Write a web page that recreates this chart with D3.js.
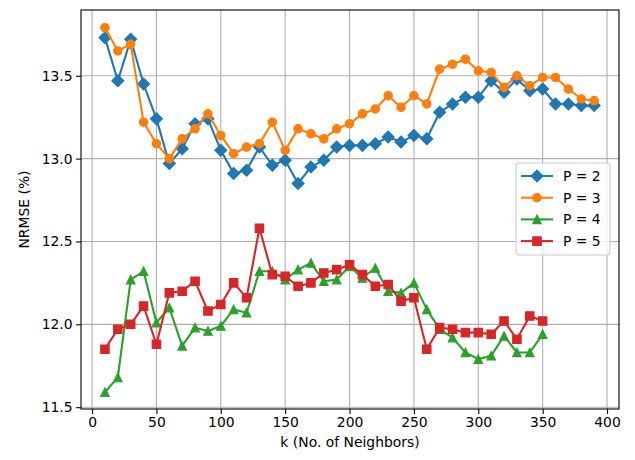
<html>
  <head>
    <script src="https://cdn.jsdelivr.net/npm/d3@7"></script>
    <style>
      body { margin: 0; background: #fff; }
      text { font-family: "DejaVu Sans", sans-serif; }
    </style>
  </head>
  <body>
    <div id="chart"></div>
    <script>
      // values
      var kAll = [10, 20, 30, 40, 50, 60, 70, 80, 90, 100, 110, 120, 130, 140, 150, 160, 170, 180, 190, 200,
        210, 220, 230, 240, 250, 260, 270, 280, 290, 300, 310, 320, 330, 340, 350, 360, 370, 380, 390];
      var kShort = kAll.slice(0, 35); // P = 4, 5 stop at 350

      var p2 = [13.73, 13.47, 13.72, 13.45, 13.24, 12.97, 13.06, 13.21, 13.24, 13.05,
        12.91, 12.93, 13.07, 12.96, 12.99, 12.85, 12.95, 12.99, 13.07, 13.08,
        13.08, 13.09, 13.13, 13.10, 13.14, 13.12, 13.28, 13.33, 13.37, 13.37,
        13.47, 13.40, 13.48, 13.41, 13.42, 13.33, 13.33, 13.32, 13.32];
      var p3 = [13.79, 13.65, 13.69, 13.22, 13.09, 13.00, 13.12, 13.18, 13.27, 13.14,
        13.03, 13.07, 13.09, 13.22, 13.05, 13.18, 13.15, 13.12, 13.18, 13.21,
        13.27, 13.30, 13.38, 13.31, 13.38, 13.33, 13.54, 13.57, 13.60, 13.53,
        13.52, 13.43, 13.50, 13.44, 13.49, 13.49, 13.42, 13.36, 13.35];
      var p4 = [11.59, 11.68, 12.27, 12.32, 12.01, 12.10, 11.87, 11.98, 11.96, 11.99,
        12.09, 12.07, 12.32, 12.32, 12.27, 12.33, 12.37, 12.26, 12.27, 12.35,
        12.28, 12.34, 12.20, 12.19, 12.25, 12.09, 11.97, 11.92, 11.83, 11.79,
        11.81, 11.93, 11.83, 11.83, 11.94];
      var p5 = [11.85, 11.97, 12.00, 12.11, 11.88, 12.19, 12.20, 12.26, 12.08, 12.12,
        12.25, 12.16, 12.58, 12.30, 12.29, 12.23, 12.25, 12.31, 12.33, 12.36,
        12.30, 12.23, 12.24, 12.14, 12.16, 11.85, 11.98, 11.97, 11.95, 11.95,
        11.94, 12.02, 11.91, 12.05, 12.02];

      var seriesNames = ["P = 2", "P = 3", "P = 4", "P = 5"];
      var xTicks = [0, 50, 100, 150, 200, 250, 300, 350, 400];
      var yTicks = [11.5, 12.0, 12.5, 13.0, 13.5];

      var colors = ["#1f77b4", "#ff7f0e", "#2ca02c", "#d62728"];
      var symbols = ["diamond", "circle", "triangle", "square"];

      var series = [
        { name: seriesNames[0], k: kAll, v: p2 },
        { name: seriesNames[1], k: kAll, v: p3 },
        { name: seriesNames[2], k: kShort, v: p4 },
        { name: seriesNames[3], k: kShort, v: p5 },
      ];

      var width = 635, height = 460;
      var plotL = 81, plotR = 619, plotT = 10, plotB = 409;

      var svg = d3.select("#chart").append("svg")
        .attr("width", width)
        .attr("height", height);

      var xScale = d3.scaleLinear().domain([-8.6, 409.3]).range([plotL, plotR]);
      var yScale = d3.scaleLinear().domain([11.489, 13.897]).range([plotB, plotT]);

      // grid
      svg.append("g").selectAll("line").data(xTicks).join("line")
        .attr("x1", (d) => xScale(d)).attr("x2", (d) => xScale(d))
        .attr("y1", plotT).attr("y2", plotB)
        .attr("stroke", "#b0b0b0").attr("stroke-width", 1.1);
      svg.append("g").selectAll("line").data(yTicks).join("line")
        .attr("y1", (d) => yScale(d)).attr("y2", (d) => yScale(d))
        .attr("x1", plotL).attr("x2", plotR)
        .attr("stroke", "#b0b0b0").attr("stroke-width", 1.1);

      // axes
      var xAxis = svg.append("g")
        .attr("transform", "translate(0," + plotB + ")")
        .call(d3.axisBottom(xScale).tickValues(xTicks).tickSize(4.9).tickPadding(3.5).tickFormat(d3.format("d")));
      var yAxis = svg.append("g")
        .attr("transform", "translate(" + plotL + ",0)")
        .call(d3.axisLeft(yScale).tickValues(yTicks).tickSize(4.9).tickPadding(3.5).tickFormat(d3.format(".1f")));
      [xAxis, yAxis].forEach(function (ax) {
        ax.select(".domain").remove();
        ax.selectAll("line").attr("stroke", "#000").attr("stroke-width", 1.1);
        ax.selectAll("text").attr("fill", "#000").style("font-size", "13.9px")
          .style("font-family", "'DejaVu Sans', sans-serif");
      });

      // lines + markers
      var line = d3.line().x((d) => xScale(d[0])).y((d) => yScale(d[1]));
      var symbolSizes = { diamond: 70, circle: 55, triangle: 42, square: 70 };

      function symbolPath(name) {
        if (name === "diamond") return d3.symbol().type(d3.symbolSquare).size(symbolSizes.diamond)();
        if (name === "circle") return d3.symbol().type(d3.symbolCircle).size(symbolSizes.circle)();
        if (name === "triangle") return "M0,-4.2L4.2,4.2L-4.2,4.2Z";
        return d3.symbol().type(d3.symbolSquare).size(symbolSizes.square)();
      }

      series.forEach(function (s, i) {
        var pts = s.k.map((k, j) => [k, s.v[j]]);
        var g = svg.append("g");
        g.append("path")
          .attr("d", line(pts))
          .attr("fill", "none")
          .attr("stroke", colors[i])
          .attr("stroke-width", 2.1)
          .attr("stroke-linejoin", "round");
        g.selectAll("path.m").data(pts).join("path")
          .attr("class", "m")
          .attr("d", symbolPath(symbols[i]))
          .attr("transform", (d) => "translate(" + xScale(d[0]) + "," + yScale(d[1]) + ")" +
            (symbols[i] === "diamond" ? " rotate(45)" : ""))
          .attr("fill", colors[i])
          .attr("stroke", colors[i])
          .attr("stroke-width", 1.2);
      });

      // frame
      svg.append("rect")
        .attr("x", plotL).attr("y", plotT)
        .attr("width", plotR - plotL).attr("height", plotB - plotT)
        .attr("fill", "none").attr("stroke", "#000").attr("stroke-width", 1.1);

      // axis labels
      svg.append("text")
        .attr("x", (plotL + plotR) / 2).attr("y", 447)
        .attr("text-anchor", "middle")
        .style("font-size", "13.9px")
        .text("k (No. of Neighbors)");
      svg.append("text")
        .attr("transform", "translate(29," + (plotT + plotB) / 2 + ") rotate(-90)")
        .attr("text-anchor", "middle")
        .style("font-size", "13.9px")
        .text("NRMSE (%)");

      // legend
      var legend = svg.append("g").attr("transform", "translate(516,163)");
      legend.append("rect")
        .attr("width", 94).attr("height", 92)
        .attr("rx", 3)
        .attr("fill", "#fff").attr("fill-opacity", 0.8)
        .attr("stroke", "#cccccc").attr("stroke-width", 1.1);
      series.forEach(function (s, i) {
        var y = 13 + i * 21.7;
        legend.append("line")
          .attr("x1", 5).attr("x2", 37).attr("y1", y).attr("y2", y)
          .attr("stroke", colors[i]).attr("stroke-width", 2.1);
        legend.append("path")
          .attr("d", symbolPath(symbols[i]))
          .attr("transform", "translate(21," + y + ")" + (symbols[i] === "diamond" ? " rotate(45)" : ""))
          .attr("fill", colors[i]).attr("stroke", colors[i]).attr("stroke-width", 1.2);
        legend.append("text")
          .attr("x", 47).attr("y", y).attr("dy", "0.35em")
          .style("font-size", "13.9px")
          .text(s.name);
      });
    </script>
  </body>
</html>
